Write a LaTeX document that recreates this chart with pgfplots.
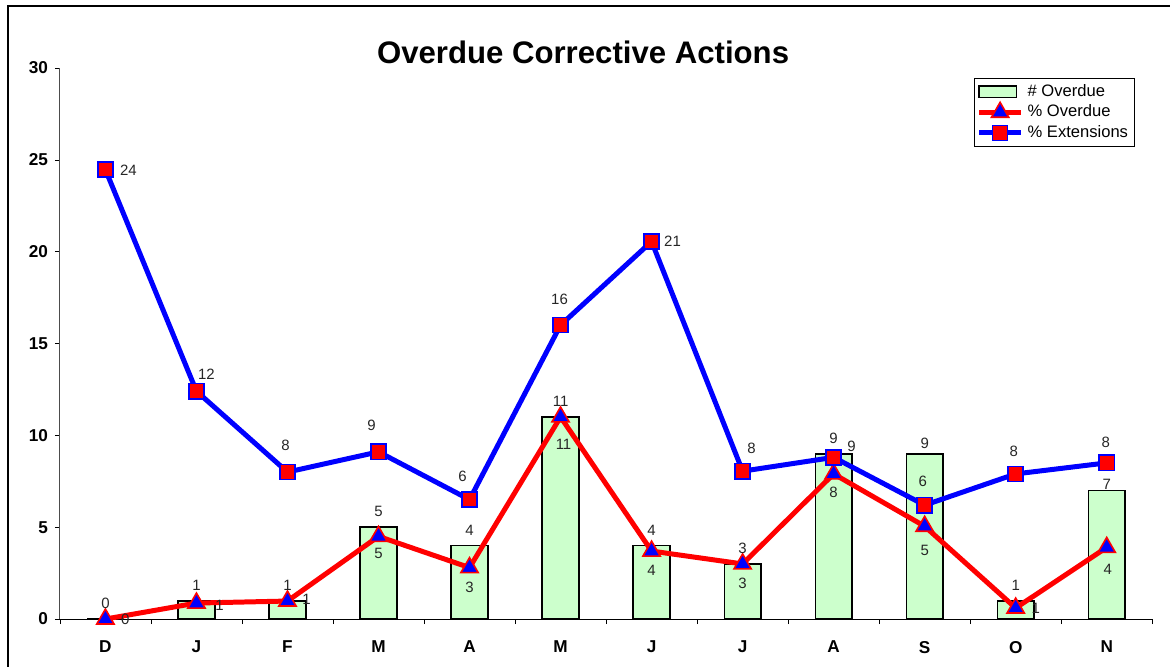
\documentclass[border=0pt]{standalone}
\usepackage{pgfplots}
\pgfplotsset{compat=1.18}
\usepackage{fontspec}
\setmainfont{Liberation Sans}
\definecolor{bargreen}{HTML}{CCFFCC}
\begin{document}
\begin{tikzpicture}
\path (-30pt,-23pt) rectangle (555.5pt,310pt);
\draw[line width=0.8pt] (-26pt,-24pt) -- (-26pt,307pt) -- (556pt,307pt);
\node[font=\bfseries\fontsize{15.6}{18}\selectfont] at (262pt,284pt) {Overdue Corrective Actions};
\begin{axis}[
  at={(0,0)}, anchor=south west,
  scale only axis, width=547pt, height=276pt,
  xmin=-0.5, xmax=11.5, ymin=0, ymax=30,
  axis x line=bottom, axis y line=left,
  axis line style={-, line width=0.5pt},
  y axis line style={draw=black!70},
  xtick={0,...,11},
  xticklabels={D,J,F,M,A,M,J,J,A,S,O,N},
  major x tick style={draw=none},
  minor xtick={-0.5,0.5,...,11.5},
  minor tick length=2.5pt,
  x tick label style={font=\bfseries\fontsize{8.6}{10}\selectfont, yshift=-5pt},
  ytick={0,5,...,30},
  y tick label style={font=\bfseries\fontsize{8.6}{10}\selectfont},
  /pgf/number format/assume math mode=true,
  tick style={black},
  major tick length=2.5pt,
  tick align=outside,
  clip=false,
  legend style={at={(0.837,0.982)}, anchor=north west, font=\fontsize{8.3}{10}\selectfont,
    draw=black, line width=0.4pt, inner sep=1pt, row sep=-1.2pt, cells={anchor=west}},
  legend cell align=left,
  legend image code/.code={\draw[mark repeat=2,mark phase=2] plot coordinates {(0cm,0cm) (0.37cm,0cm) (0.74cm,0cm)};},
  lab/.style n args={2}{draw=none, mark=none, forget plot, nodes near coords, point meta=explicit symbolic,
    every node near coord/.append style={font=\fontsize{7.5}{9}\selectfont, text=black!85, anchor=center, inner sep=0pt, xshift=#1, yshift=#2}},
]
\addplot[ybar, bar width=0.4, fill=bargreen, draw=black, line width=0.9pt,
  area legend, legend image code/.code={\draw[line width=0.6pt] (0cm,-0.1cm) rectangle (0.66cm,0.1cm);}]
  coordinates {(0,0) (1,1) (2,1) (3,5) (4,4) (5,11) (6,4) (7,3) (8,9) (9,9) (10,1) (11,7)};
\addlegendentry{\# Overdue}
\addplot[red, line width=2.5pt, mark=triangle*, mark size=5pt,
  mark options={fill=blue, draw=red, line width=0.8pt}]
  coordinates {(0,0) (1,0.87) (2,0.98) (3,4.5) (4,2.8) (5,11.0) (6,3.7) (7,3.0) (8,7.9) (9,5.05) (10,0.6) (11,3.9)};
\addlegendentry{\% Overdue}
\addplot[blue, line width=2.5pt, mark=square*, mark size=3.8pt,
  mark options={fill=red, draw=blue, line width=0.8pt}]
  coordinates {(0,24.46) (1,12.4) (2,8.0) (3,9.1) (4,6.5) (5,16.0) (6,20.55) (7,8.05) (8,8.8) (9,6.2) (10,7.9) (11,8.5)};
\addlegendentry{\% Extensions}
% labels of # Overdue (bars)
\addplot[lab={0pt}{7.8pt}] coordinates {(0,0)[0] (1,1)[1] (2,1)[1] (3,5)[5] (4,4)[4] (5,11)[11] (6,4)[4] (7,3)[3] (8,9)[9] (10,1)[1]};
\addplot[lab={0pt}{5pt}] coordinates {(9,9)[9]};
\addplot[lab={0pt}{3pt}] coordinates {(11,7)[7]};
% labels of % Overdue
\addplot[lab={10pt}{0pt}] coordinates {(0,0)[0]};
\addplot[lab={11.5pt}{-1pt}] coordinates {(1,0.87)[1]};
\addplot[lab={9.5pt}{1pt}] coordinates {(2,0.98)[1]};
\addplot[lab={10pt}{0pt}] coordinates {(10,0.6)[1]};
\addplot[lab={0pt}{-8.5pt}] coordinates {(3,4.5)[5]};
\addplot[lab={0pt}{-10pt}] coordinates {(4,2.8)[3]};
\addplot[lab={1.5pt}{-13.5pt}] coordinates {(5,11.0)[11]};
\addplot[lab={0pt}{-9.5pt}] coordinates {(6,3.7)[4] (7,3.0)[3]};
\addplot[lab={0pt}{-9pt}] coordinates {(8,7.9)[8]};
\addplot[lab={0pt}{-12pt}] coordinates {(9,5.05)[5]};
\addplot[lab={0.5pt}{-11pt}] coordinates {(11,3.9)[4]};
% labels of % Extensions
\addplot[lab={11.5pt}{-0.5pt}] coordinates {(0,24.46)[24]};
\addplot[lab={5pt}{8.5pt}] coordinates {(1,12.4)[12]};
\addplot[lab={-1pt}{13.5pt}] coordinates {(2,8.0)[8]};
\addplot[lab={-3.5pt}{13.5pt}] coordinates {(3,9.1)[9]};
\addplot[lab={-3.5pt}{11.5pt}] coordinates {(4,6.5)[6]};
\addplot[lab={-0.5pt}{13pt}] coordinates {(5,16.0)[16]};
\addplot[lab={10.5pt}{0pt}] coordinates {(6,20.55)[21]};
\addplot[lab={4.5pt}{11.5pt}] coordinates {(7,8.05)[8]};
\addplot[lab={9pt}{5.5pt}] coordinates {(8,8.8)[9]};
\addplot[lab={-1pt}{12pt}] coordinates {(9,6.2)[6]};
\addplot[lab={-1pt}{11.5pt}] coordinates {(10,7.9)[8]};
\addplot[lab={-0.5pt}{10.5pt}] coordinates {(11,8.5)[8]};
\end{axis}
\end{tikzpicture}
\end{document}
